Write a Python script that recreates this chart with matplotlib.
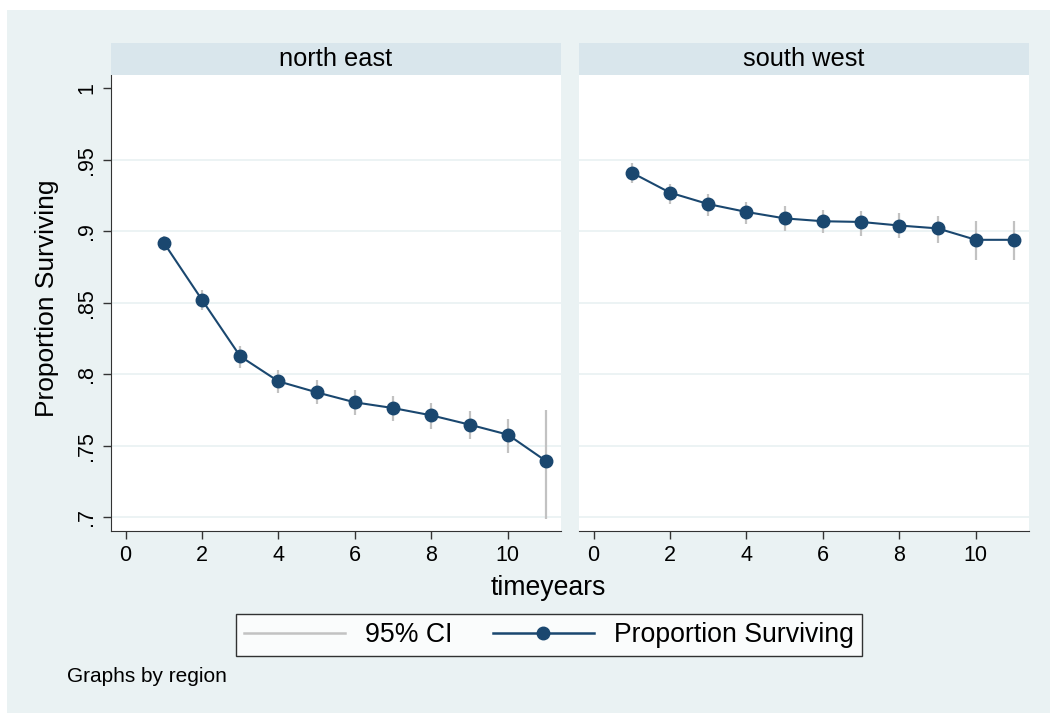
import matplotlib.pyplot as plt
from matplotlib.patches import Rectangle
from matplotlib.lines import Line2D
from matplotlib.ticker import FuncFormatter

plt.rcParams['font.family'] = ['Liberation Sans', 'DejaVu Sans']

# donnees
years = [1, 2, 3, 4, 5, 6, 7, 8, 9, 10, 11]
regions = ["north east", "south west"]

ne_surv = [0.892, 0.852, 0.8125, 0.795, 0.7873, 0.7803, 0.7763, 0.7712, 0.7647, 0.7577, 0.7392]
ne_lo = [0.886, 0.845, 0.8044, 0.787, 0.779, 0.7713, 0.7674, 0.762, 0.7545, 0.745, 0.6986]
ne_hi = [0.897, 0.859, 0.8196, 0.803, 0.7956, 0.789, 0.785, 0.780, 0.774, 0.769, 0.775]

sw_surv = [0.941, 0.927, 0.919, 0.9135, 0.909, 0.907, 0.9065, 0.904, 0.902, 0.894, 0.894]
sw_lo = [0.934, 0.919, 0.911, 0.905, 0.9005, 0.8985, 0.897, 0.895, 0.892, 0.880, 0.880]
sw_hi = [0.9475, 0.933, 0.926, 0.9205, 0.9175, 0.915, 0.914, 0.9125, 0.911, 0.9075, 0.9075]

yticks = [0.7, 0.75, 0.8, 0.85, 0.9, 0.95, 1.0]
xticks = [0, 2, 4, 6, 8, 10]

bg = "#eaf2f3"
strip_col = "#d9e6ec"
navy = "#1a476f"
ci_col = "#c2c2c2"

W, H = 1050, 713
fig = plt.figure(figsize=(W / 100, H / 100), dpi=100, facecolor="white")
# fond bleu clair (marge blanche en haut/gauche)
fig.patches.append(Rectangle((7 / W, 0), 1 - 7 / W, 1 - 10 / H, transform=fig.transFigure,
                             facecolor=bg, edgecolor="none", zorder=-10))

def stata_fmt(v, pos):
    s = f"{v:g}"
    if s.startswith("0."):
        s = s[1:]
    return s

series = [(ne_surv, ne_lo, ne_hi), (sw_surv, sw_lo, sw_hi)]
lefts = [111, 579]
for i, (surv, lo, hi) in enumerate(series):
    x0 = lefts[i] / W
    ax = fig.add_axes([x0, 1 - 531 / H, 450 / W, (531 - 75) / H])
    ax.set_facecolor("white")
    # grille
    for yv in yticks[:-1]:
        ax.axhline(yv, color=bg, lw=1.3, zorder=0)
    ax.vlines(years, lo, hi, color=ci_col, lw=1.6, zorder=2)
    ax.plot(years, surv, color=navy, lw=1.5, marker="o", markersize=9, zorder=3)
    ax.set_xlim(-0.38, 11.39)
    ax.set_ylim(0.6903, 1.0093)
    ax.set_xticks(xticks)
    ax.set_yticks(yticks)
    ax.yaxis.set_major_formatter(FuncFormatter(stata_fmt))
    ax.tick_params(axis="x", length=6, width=1, color="#333333", labelsize=15.5, pad=4)
    ax.tick_params(axis="y", length=6, width=1, color="#333333", labelsize=15.5, pad=4)
    for lab in ax.get_yticklabels():
        lab.set_rotation(90)
        lab.set_va("center")
    ax.spines["top"].set_visible(False)
    ax.spines["right"].set_visible(False)
    ax.spines["bottom"].set_color("#333333")
    ax.spines["left"].set_color("#333333")
    if i == 1:
        ax.spines["left"].set_visible(False)
        ax.tick_params(axis="y", left=False, labelleft=False)
    # bandeau titre
    sax = fig.add_axes([x0, 1 - 75 / H, 450 / W, 32 / H])
    sax.set_facecolor(strip_col)
    sax.set_xticks([])
    sax.set_yticks([])
    for sp in sax.spines.values():
        sp.set_visible(False)
    sax.text(0.5, 0.5, regions[i], ha="center", va="center", fontsize=18.3,
             transform=sax.transAxes)

fig.text(47 / W, 1 - 298 / H, "Proportion Surviving", rotation=90, ha="center",
         va="center", fontsize=19)
fig.text(548 / W, 1 - 588 / H, "timeyears", ha="center", va="center", fontsize=19.2)
fig.text(67 / W, 1 - 677 / H, "Graphs by region", ha="left", va="center", fontsize=15)

h_ci = Line2D([], [], color=ci_col, lw=1.8)
h_line = Line2D([], [], color=navy, lw=1.8, marker="o", markersize=9)
leg = fig.legend([h_ci, h_line], ["95% CI", "Proportion Surviving"], ncol=2,
                 loc="center", bbox_to_anchor=(549 / W, 1 - 635 / H), fontsize=19.2,
                 frameon=True, fancybox=False, edgecolor="black", handlelength=3.8,
                 handletextpad=0.75, columnspacing=1.5, borderpad=0.3)
leg.get_frame().set_linewidth(1.0)
leg.get_frame().set_facecolor("white")

fig.savefig("out.png", dpi=100)
